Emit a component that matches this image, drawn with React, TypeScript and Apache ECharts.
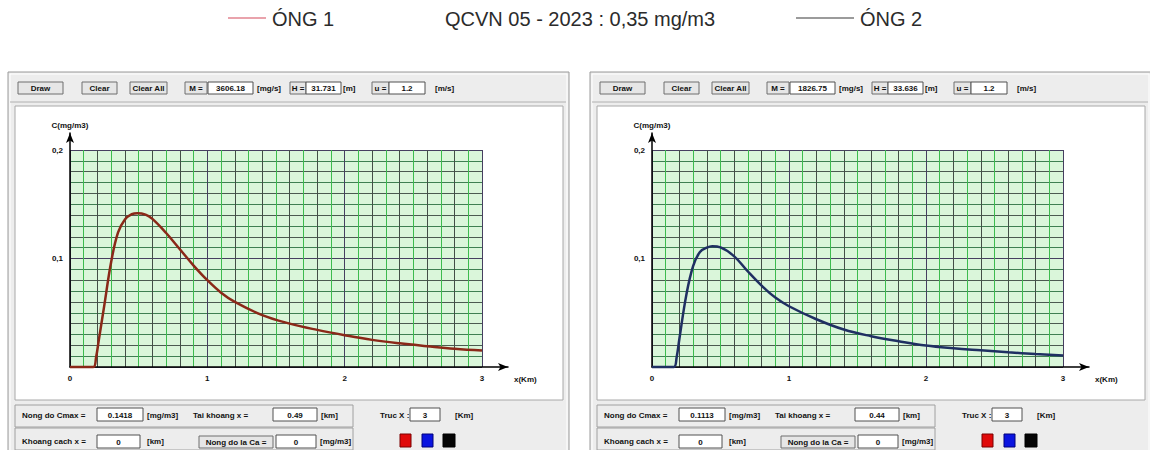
import React, { useEffect, useRef } from 'react';
import * as echarts from 'echarts';

// ---------- data ----------
const legendLabels = ['ÓNG 1', 'QCVN 05 - 2023 : 0,35 mg/m3', 'ÓNG 2'];

const pipe1X = [0, 0.1, 0.17, 0.19, 0.21, 0.25, 0.3, 0.35, 0.4, 0.45, 0.49, 0.55, 0.6, 0.7, 0.8, 0.9, 1.0, 1.1, 1.2, 1.4, 1.6, 1.8, 2.0, 2.2, 2.4, 2.6, 2.8, 3.0];
const pipe1Y = [0, 0, 0, 0.009, 0.025, 0.057, 0.097, 0.124, 0.136, 0.1408, 0.1418, 0.1405, 0.1365, 0.1235, 0.1085, 0.0935, 0.08, 0.0685, 0.06, 0.0478, 0.04, 0.0342, 0.0293, 0.025, 0.0218, 0.0192, 0.0168, 0.0151];

const pipe2X = [0, 0.1, 0.16, 0.18, 0.2, 0.25, 0.3, 0.35, 0.4, 0.44, 0.5, 0.6, 0.7, 0.8, 0.9, 1.0, 1.2, 1.4, 1.6, 1.8, 2.0, 2.2, 2.4, 2.6, 2.8, 3.0];
const pipe2Y = [0, 0, 0, 0.009, 0.026, 0.066, 0.093, 0.106, 0.11, 0.1113, 0.1102, 0.102, 0.088, 0.075, 0.064, 0.056, 0.044, 0.0345, 0.0284, 0.0238, 0.0198, 0.0173, 0.0154, 0.0136, 0.012, 0.0105];

const xMin = 0;
const xMax = 3;
const xStep = 0.1;
const yMin = 0;
const yMax = 0.2;
const yStep = 0.01;

const panel1Fields = { M: '3606.18', H: '31.731', u: '1.2', cmax: '0.1418', xcmax: '0.49', x: '0', ca: '0', axisX: '3' };
const panel2Fields = { M: '1826.75', H: '33.636', u: '1.2', cmax: '0.1113', xcmax: '0.44', x: '0', ca: '0', axisX: '3' };

const uiLabels = {
  draw: 'Draw', clear: 'Clear', clearAll: 'Clear All',
  M: 'M =', H: 'H =', u: 'u =',
  unitM: '[mg/s]', unitH: '[m]', unitU: '[m/s]',
  cmax: 'Nong do Cmax =', unitC: '[mg/m3]', xcmax: 'Tai khoang x =', unitKm: '[km]',
  x: 'Khoang cach x =', ca: 'Nong do la Ca =', axisX: 'Truc X :', unitKm2: '[Km]',
  yName: 'C(mg/m3)', xName: 'x(Km)',
};

// ---------- helpers ----------
const FONT = '"Liberation Sans", Arial, sans-serif';
const LEGEND_FONT = '"Liberation Sans Narrow", "Arial Narrow", "Liberation Sans", Arial, sans-serif';
const MAJOR = '#463f60';

function xLineColors() {
  const n = Math.round((xMax - xMin) / xStep);
  const arr: string[] = [];
  for (let i = 0; i <= n; i++) {
    if (i % 10 === 0) arr.push(MAJOR);
    else arr.push(i % 2 === 0 ? '#434f47' : '#3cbb4e');
  }
  return arr;
}
function yLineColors() {
  const n = Math.round((yMax - yMin) / yStep);
  const arr: string[] = [];
  for (let i = 0; i <= n; i++) {
    if (i % 10 === 0) arr.push(MAJOR);
    else arr.push(i % 2 === 0 ? '#4b5a50' : '#3f7f52');
  }
  return arr;
}

function panelGraphics(dx: number, f: typeof panel1Fields) {
  const els: any[] = [];
  const txt = (x: number, y: number, text: string, align = 'left', size = 8) => {
    els.push({
      type: 'text', x: x + dx, y, z: 5, silent: true,
      style: { text, fill: '#111', fontSize: size, fontWeight: 'bold', fontFamily: FONT, align, verticalAlign: 'middle' },
    });
  };
  const rect = (x: number, y: number, w: number, h: number, fill: string, stroke: string, z = -5, lw = 1) => {
    els.push({ type: 'rect', z, silent: true, shape: { x: x + dx, y, width: w, height: h }, style: { fill, stroke, lineWidth: lw } });
  };
  const button = (x: number, y: number, w: number, h: number, label: string) => {
    rect(x, y, w, h, '#e6e6e6', '#6e6e6e', 1);
    txt(x + w / 2, y + h / 2, label, 'center');
  };
  const input = (x: number, y: number, w: number, h: number, value: string) => {
    rect(x, y, w, h, '#ffffff', '#505050', 1);
    txt(x + w / 2, y + h / 2 + 0.5, value, 'center');
  };

  // frame
  rect(8, 72, 561, 382, '#ededed', '#9a9a9a', -10);
  rect(10, 74, 557, 380, 'none', '#ffffff', -9);
  els.push({ type: 'line', z: -8, silent: true, shape: { x1: 10 + dx, y1: 102, x2: 566 + dx, y2: 102 }, style: { stroke: '#b0b0b0', lineWidth: 1 } });
  rect(15, 106, 548, 294, '#ffffff', '#a8a8a8', -8);

  // toolbar
  button(18, 82, 45, 12, uiLabels.draw);
  button(82, 82, 35, 12, uiLabels.clear);
  button(130, 82, 37, 12, uiLabels.clearAll);
  rect(185, 82, 22, 12, '#e6e6e6', '#6e6e6e', 1);
  txt(196, 88, uiLabels.M, 'center');
  input(208, 82, 45, 12, f.M);
  txt(257, 88, uiLabels.unitM);
  rect(290, 82, 16, 12, '#e6e6e6', '#6e6e6e', 1);
  txt(298, 88, uiLabels.H, 'center');
  input(306, 82, 35, 12, f.H);
  txt(343, 88, uiLabels.unitH);
  rect(372, 82, 17, 12, '#e6e6e6', '#6e6e6e', 1);
  txt(380.5, 88, uiLabels.u, 'center');
  input(389, 82, 36, 12, f.u);
  txt(435, 88, uiLabels.unitU);

  // bottom group boxes
  rect(15, 405, 338, 22, 'none', '#a0a0a0', -7);
  rect(15, 428, 338, 22, 'none', '#a0a0a0', -7);
  txt(22, 415, uiLabels.cmax);
  input(97, 408, 46, 13, f.cmax);
  txt(147, 415, uiLabels.unitC);
  txt(193, 415, uiLabels.xcmax);
  input(273, 408, 44, 13, f.xcmax);
  txt(321, 415, uiLabels.unitKm);

  txt(22, 441, uiLabels.x);
  input(97, 435, 43, 13, f.x);
  txt(147, 441, uiLabels.unitKm);
  button(199, 436, 74, 12, uiLabels.ca);
  input(276, 435, 40, 13, f.ca);
  txt(320, 441, uiLabels.unitC);

  txt(380, 415, uiLabels.axisX);
  input(410, 408, 30, 13, f.axisX);
  txt(455, 415, uiLabels.unitKm2);

  rect(400, 434, 11, 13, '#e00a0a', '#7a0000', 1);
  rect(422, 434, 11, 13, '#0a14e0', '#00007a', 1);
  rect(443, 434, 12, 13, '#050505', '#000000', 1);
  return els;
}

function legendGraphics() {
  const style = { fill: '#2b2b2b', fontSize: 20, fontFamily: LEGEND_FONT, verticalAlign: 'middle' };
  return [
    { type: 'line', silent: true, shape: { x1: 228, y1: 18, x2: 266, y2: 18 }, style: { stroke: '#e9a3ac', lineWidth: 2 } },
    { type: 'text', silent: true, x: 272, y: 19, style: { ...style, text: legendLabels[0] } },
    { type: 'text', silent: true, x: 445, y: 19, style: { ...style, text: legendLabels[1] } },
    { type: 'line', silent: true, shape: { x1: 796, y1: 18, x2: 854, y2: 18 }, style: { stroke: '#9b9b9b', lineWidth: 2 } },
    { type: 'text', silent: true, x: 860, y: 19, style: { ...style, text: legendLabels[2] } },
  ];
}

const isInt = (v: number) => Math.abs(v - Math.round(v)) < 1e-6;

function mainX(gridIndex: number) {
  return {
    type: 'value', gridIndex, min: xMin, max: xMax, interval: xStep,
    axisLine: { show: false }, axisTick: { show: false },
    axisLabel: {
      margin: 7, fontSize: 8, fontWeight: 'bold', color: '#111', fontFamily: FONT,
      formatter: (v: number) => (isInt(v) ? String(Math.round(v)) : ''),
    },
    splitLine: { show: true, lineStyle: { color: xLineColors(), width: 1 } },
  };
}
function mainY(gridIndex: number) {
  return {
    type: 'value', gridIndex, min: yMin, max: yMax, interval: yStep,
    axisLine: { show: false }, axisTick: { show: false },
    axisLabel: {
      margin: 7, fontSize: 8, fontWeight: 'bold', color: '#111', fontFamily: FONT,
      formatter: (v: number) => {
        const k = Math.round(v * 100);
        return k > 0 && k % 10 === 0 ? (k / 100).toFixed(1).replace('.', ',') : '';
      },
    },
    splitLine: { show: true, lineStyle: { color: yLineColors(), width: 1 } },
  };
}
function frameX(gridIndex: number) {
  return {
    type: 'value', gridIndex, min: 0, max: 1,
    axisLine: { show: true, onZero: false, symbol: ['none', 'arrow'], symbolSize: [6, 10], lineStyle: { color: '#000', width: 1.5 } },
    axisTick: { show: false }, axisLabel: { show: false }, splitLine: { show: false },
    name: uiLabels.xName, nameLocation: 'end', nameGap: 6,
    nameTextStyle: { fontSize: 8, fontWeight: 'bold', color: '#111', fontFamily: FONT, verticalAlign: 'top', padding: [8, 0, 0, 0] },
  };
}
function frameY(gridIndex: number) {
  return {
    type: 'value', gridIndex, min: 0, max: 1,
    axisLine: { show: true, onZero: false, symbol: ['none', 'arrow'], symbolSize: [6, 10], lineStyle: { color: '#000', width: 1.5 } },
    axisTick: { show: false }, axisLabel: { show: false }, splitLine: { show: false },
    name: uiLabels.yName, nameLocation: 'end', nameGap: 4,
    nameTextStyle: { fontSize: 8, fontWeight: 'bold', color: '#111', fontFamily: FONT },
  };
}

const pairs = (xs: number[], ys: number[]) => xs.map((x, i) => [x, ys[i]]);

export default function App() {
  const ref = useRef<HTMLDivElement>(null);
  useEffect(() => {
    if (!ref.current) return;
    const chart = echarts.init(ref.current, undefined, { renderer: 'svg' });
    const DX = 582;
    const option: any = {
      animation: false,
      backgroundColor: '#ffffff',
      grid: [
        { left: 70, top: 150, width: 412, height: 217, show: true, backgroundColor: '#daf6da', borderWidth: 0 },
        { left: 70, top: 133, width: 438, height: 234, show: false },
        { left: 70 + DX, top: 150, width: 411, height: 217, show: true, backgroundColor: '#daf6da', borderWidth: 0 },
        { left: 70 + DX, top: 133, width: 437, height: 234, show: false },
      ],
      xAxis: [mainX(0), frameX(1), mainX(2), frameX(3)],
      yAxis: [mainY(0), frameY(1), mainY(2), frameY(3)],
      series: [
        {
          name: legendLabels[0], type: 'line', xAxisIndex: 0, yAxisIndex: 0, clip: false,
          data: pairs(pipe1X, pipe1Y), smooth: 0.4, showSymbol: false, z: 5,
          lineStyle: { color: '#8a2818', width: 2.5 },
        },
        {
          name: legendLabels[2], type: 'line', xAxisIndex: 2, yAxisIndex: 2, clip: false,
          data: pairs(pipe2X, pipe2Y), smooth: 0.4, showSymbol: false, z: 5,
          lineStyle: { color: '#1f2f62', width: 2.5 },
        },
      ],
      graphic: { elements: [...legendGraphics(), ...panelGraphics(0, panel1Fields), ...panelGraphics(DX, panel2Fields)] },
    };
    chart.setOption(option);
    return () => chart.dispose();
  }, []);
  return <div ref={ref} style={{ position: 'absolute', left: 0, top: 0, width: 1150, height: 450 }} />;
}
